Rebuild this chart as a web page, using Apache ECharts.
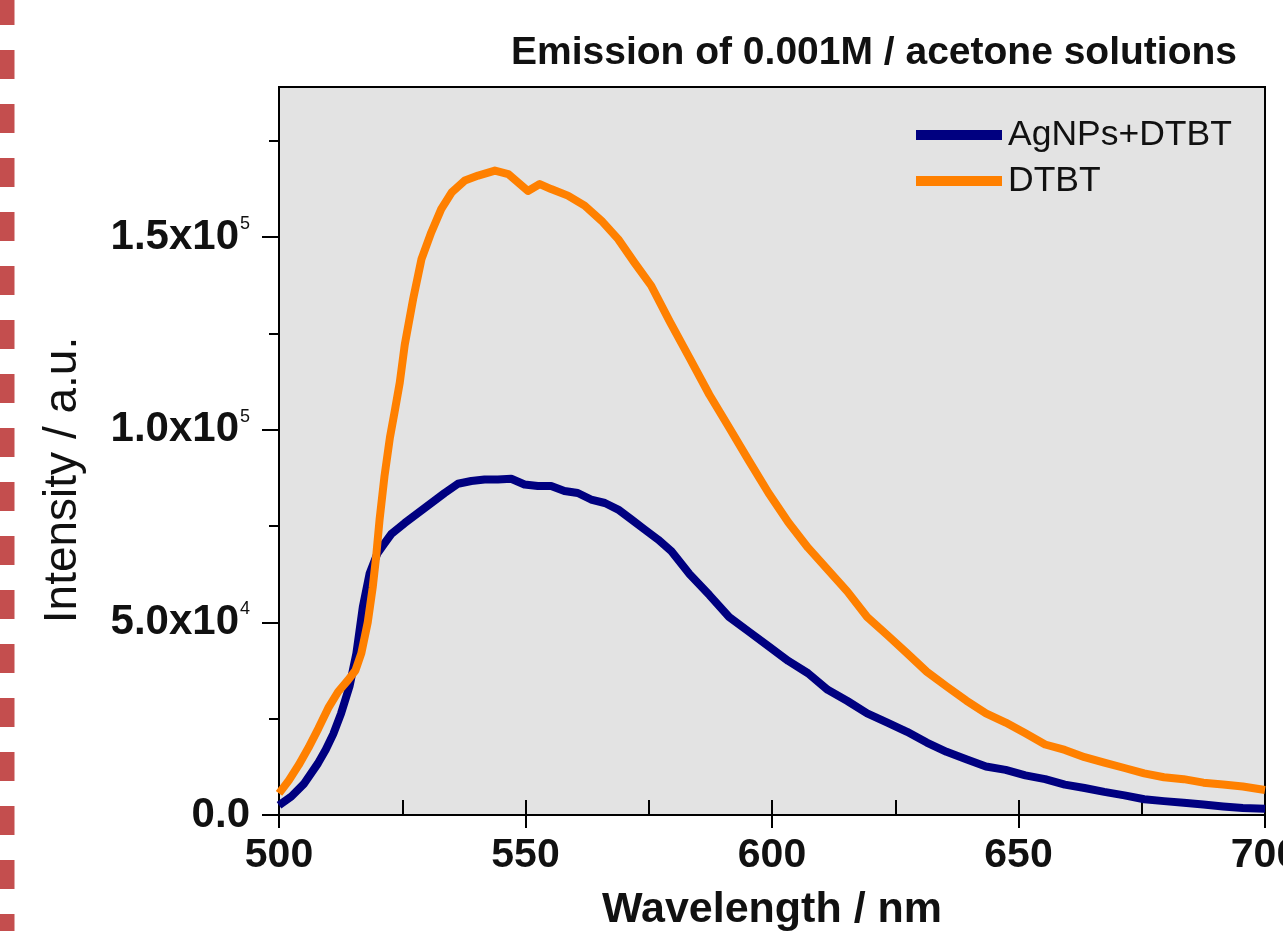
<!DOCTYPE html>
<html>
<head>
<meta charset="utf-8">
<script src="https://cdn.jsdelivr.net/npm/echarts@6/dist/echarts.min.js"></script>
<style>
html,body{margin:0;padding:0;background:#fff;}
#chart{width:1283px;height:931px;}
</style>
</head>
<body>
<div id="chart"></div>
<script>
// ---- data ----
const titleText = 'Emission of 0.001M / acetone solutions';
const xTitle = 'Wavelength / nm';
const yTitle = 'Intensity / a.u.';
const seriesNames = ['AgNPs+DTBT', 'DTBT'];

const xTickValues = [500, 550, 600, 650, 700];
const xMinorTicks = [525, 575, 625, 675];
const yTickValues = [0, 50000, 100000, 150000];
const yTickMantissa = ['0.0', '5.0', '1.0', '1.5'];
const yTickExponent = [null, 4, 5, 5];
const yMinorTicks = [25000, 75000, 125000, 175000];

const agNm = [500, 502.5, 505, 507.9, 509.5, 511, 512.6, 514.3, 515.7, 517, 518.4, 520, 521.4, 522.8,
  525.5, 528.2, 530.9, 533.6, 536.3, 539, 541.7, 544.4, 547.1, 549.8, 552.5, 555.2, 557.9, 560.6,
  563.3, 566.1, 568.8, 571.5, 574.2, 576.9, 579.6, 583.3, 587.3, 591.3, 595.3, 599.3, 603.3, 607.3,
  611.3, 615.3, 619.3, 623.4, 627.4, 631.4, 635.4, 639.4, 643.4, 647.4, 651.4, 655.4, 659.4, 663.4,
  667.4, 671.5, 675.5, 679.5, 683.5, 687.5, 691.5, 695.5, 700];
const agVal = [2500, 4800, 8000, 13400, 17000, 21000, 26400, 33400, 42000, 54000, 62800, 68000, 70500, 73000,
  75800, 78400, 81000, 83600, 86000, 86700, 87100, 87100, 87300, 85800, 85400, 85400, 84100, 83600,
  81900, 81000, 79300, 76700, 74100, 71500, 68500, 62500, 57100, 51400, 47600, 43800, 40000, 36800,
  32500, 29600, 26400, 24000, 21600, 18800, 16400, 14500, 12600, 11700, 10300, 9300, 7900, 7000,
  6000, 5100, 4100, 3600, 3200, 2700, 2200, 1800, 1600];

const dtbtNm = [500, 502, 504, 506, 508, 510, 512, 514, 515.5, 516.7, 518, 519, 519.7, 520.4, 521.4, 522.5,
  523.5, 524.5, 525.5, 527.2, 528.9, 530.9, 532.9, 535, 537.7, 540.4, 543.8, 546.5, 548.5, 550.5,
  552.9, 555.2, 558.6, 562, 565.4, 568.8, 572.1, 575.5, 579.3, 583.3, 587.3, 591.3, 595.3, 599.3,
  603.3, 607.3, 611.3, 615.3, 619.3, 623.4, 627.4, 631.4, 635.4, 639.4, 643.4, 647.4, 651.4, 655.4,
  659.4, 663.4, 667.4, 671.5, 675.5, 679.5, 683.5, 687.5, 691.5, 695.5, 700];
const dtbtVal = [5600, 9000, 13000, 17500, 22500, 27800, 32000, 35000, 37500, 42000, 50000, 59000, 67000, 76700, 88000, 98000,
  105000, 112300, 122000, 133900, 144300, 151300, 157300, 161600, 164700, 166000, 167300, 166400, 164200, 162000,
  163800, 162500, 160800, 158200, 154300, 149500, 143400, 137400, 128000, 118600, 109100, 100600, 92000, 83600,
  76000, 69400, 63700, 58000, 51400, 46700, 42000, 37200, 33400, 29700, 26400, 24000, 21200, 18300,
  16900, 15000, 13600, 12200, 10800, 9800, 9300, 8400, 7900, 7400, 6500];

const xMin = 500, xMax = 700, yMin = 0, yMax = 189000;

// ---- chart ----
const FONT = '"Liberation Sans", Arial, Helvetica, sans-serif';
const chart = echarts.init(document.getElementById('chart'), null, {renderer: 'canvas'});

function yLabel(v) {
  const i = yTickValues.indexOf(v);
  if (i < 0) return '';
  if (yTickExponent[i] === null) return '{m|' + yTickMantissa[i] + '}';
  return '{m|' + yTickMantissa[i] + 'x10}{s|' + yTickExponent[i] + '}';
}
function xLabel(v) {
  return xTickValues.indexOf(v) >= 0 ? String(v) : '';
}

const gridDef = {left: 279, right: 18, top: 87, bottom: 116, show: true,
  outerBoundsMode: 'none', containLabel: false,
  backgroundColor: '#e3e3e3', borderColor: '#000', borderWidth: 2};

const hiddenLine = {show: false};
const option = {
  animation: false,
  backgroundColor: '#ffffff',
  title: {
    text: titleText, right: 46, top: 34, padding: 0,
    textStyle: {fontFamily: FONT, fontSize: 39, fontWeight: 'bold', color: '#111', lineHeight: 38}
  },
  legend: {
    data: seriesNames, orient: 'vertical', left: 916, top: 115, padding: 0,
    icon: 'rect', itemWidth: 86, itemHeight: 10, itemGap: 6,
    textStyle: {fontFamily: FONT, fontSize: 35.5, color: '#111', lineHeight: 40, padding: [0, 0, 0, 1]}
  },
  grid: gridDef,
  xAxis: [
    {type: 'value', min: xMin, max: xMax, interval: 50, position: 'bottom',
      axisLine: {show: true, onZero: false, lineStyle: {color: '#000', width: 2}},
      axisTick: {show: true, inside: false, length: 13, customValues: xTickValues, lineStyle: {color: '#000', width: 2}},
      axisLabel: {show: true, margin: 21, customValues: xTickValues, formatter: xLabel, hideOverlap: false,
        fontFamily: FONT, fontSize: 41, fontWeight: 'bold', color: '#111', lineHeight: 40},
      splitLine: {show: false},
      name: xTitle, nameLocation: 'middle', nameGap: 75,
      nameTextStyle: {fontFamily: FONT, fontSize: 43, fontWeight: 'bold', color: '#111', lineHeight: 41}},
    {type: 'value', min: xMin, max: xMax, interval: 50, position: 'bottom',
      axisLine: hiddenLine,
      axisTick: {show: true, inside: true, length: 15, customValues: xTickValues, lineStyle: {color: '#000', width: 2}},
      axisLabel: {show: false}, splitLine: {show: false}},
    {type: 'value', min: xMin, max: xMax, interval: 50, position: 'bottom', offset: 8,
      axisLine: hiddenLine,
      axisTick: {show: true, inside: true, length: 15, customValues: xMinorTicks, lineStyle: {color: '#000', width: 2}},
      axisLabel: {show: false}, splitLine: {show: false}}
  ],
  yAxis: [
    {type: 'value', min: yMin, max: yMax, interval: 50000, position: 'left',
      axisLine: {show: true, onZero: false, lineStyle: {color: '#000', width: 2}},
      axisTick: {show: true, inside: false, length: 17, customValues: yTickValues, lineStyle: {color: '#000', width: 2}},
      axisLabel: {show: true, margin: 29, customValues: yTickValues, formatter: yLabel,
        rich: {
          m: {fontFamily: FONT, fontSize: 42, fontWeight: 'bold', color: '#111'},
          s: {fontFamily: FONT, fontSize: 18, color: '#111', padding: [0, 0, 26, 1]}
        }},
      splitLine: {show: false}},
    {type: 'value', min: yMin, max: yMax, interval: 50000, position: 'left',
      axisLine: hiddenLine,
      axisTick: {show: true, inside: false, length: 10, customValues: yMinorTicks, lineStyle: {color: '#000', width: 2}},
      axisLabel: {show: false}, splitLine: {show: false}}
  ],
  graphic: [
    {type: 'line', silent: true, z: 100,
      shape: {x1: 7, y1: -4, x2: 7, y2: 940},
      style: {stroke: '#c44e4e', lineWidth: 15, lineDash: [29, 25]}},
    {type: 'text', silent: true, x: 63, y: 480, rotation: Math.PI / 2,
      style: {text: yTitle, fontFamily: FONT, fontSize: 46, fill: '#111', align: 'center', verticalAlign: 'middle'}}
  ],
  series: [
    {name: seriesNames[0], type: 'line', xAxisIndex: 0, yAxisIndex: 0, showSymbol: false, symbol: 'none',
      color: '#000080', lineStyle: {color: '#000080', width: 8, join: 'round'},
      data: agNm.map((x, i) => [x, agVal[i]])},
    {name: seriesNames[1], type: 'line', xAxisIndex: 0, yAxisIndex: 0, showSymbol: false, symbol: 'none',
      color: '#ff8000', lineStyle: {color: '#ff8000', width: 8, join: 'round'},
      data: dtbtNm.map((x, i) => [x, dtbtVal[i]])}
  ]
};
chart.setOption(option);
</script>
</body>
</html>
